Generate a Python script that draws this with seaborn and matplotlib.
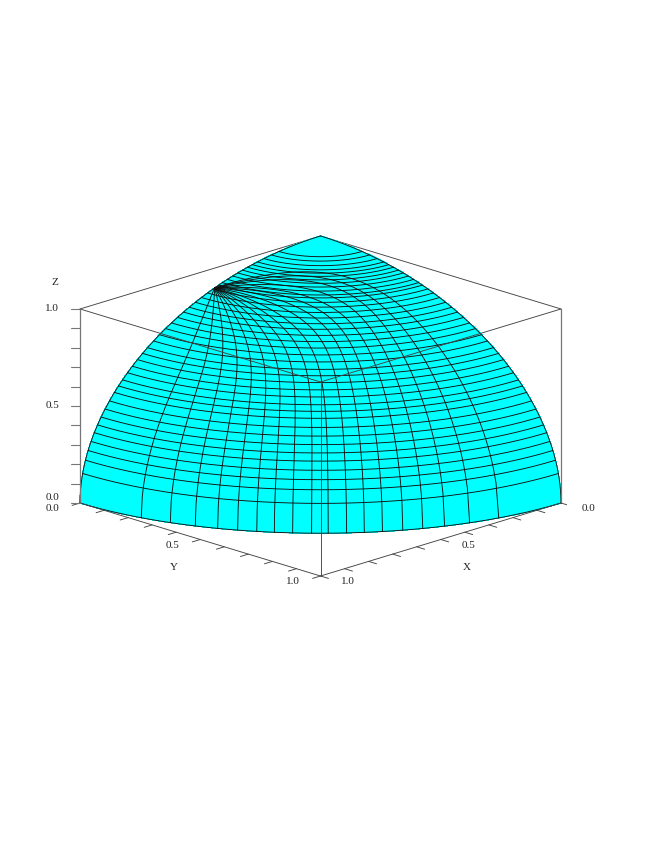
import numpy as np
import matplotlib
matplotlib.use("Agg")
import matplotlib.pyplot as plt
import seaborn as sns
from mpl_toolkits.mplot3d import proj3d

# ---- values ----
ring_z = [0.148, 0.212, 0.258, 0.30, 0.34, 0.375, 0.41, 0.445, 0.48, 0.516, 0.543, 0.568,
          0.597, 0.623, 0.649, 0.673, 0.695, 0.72, 0.743, 0.765, 0.785, 0.804, 0.822,
          0.838, 0.854, 0.869, 0.883, 0.895, 0.906, 0.913, 0.922, 0.931, 0.939, 0.946,
          0.953, 0.959, 0.965, 0.972, 0.979, 0.985]
curve_end_azimuth = [13.2, 18.8, 23.4, 27.4, 30.9, 34.2, 37.2, 40.3, 43.5, 46.3, 49.4,
                     52.4, 55.5, 59.0, 62.5, 66.4, 71.0, 76.6]
curve_elbow_radius = [0.73, 0.725, 0.72, 0.71, 0.70, 0.69, 0.67, 0.65, 0.63, 0.60, 0.56,
                      0.52, 0.48, 0.44, 0.38, 0.31, 0.27, 0.232]
fan_point = (0.44, 0.0)
tick_values = [0.0, 0.5, 1.0]
minor_ticks = [0.0, 0.1, 0.2, 0.3, 0.4, 0.5, 0.6, 0.7, 0.8, 0.9, 1.0]
axis_names = ["X", "Y", "Z"]

sns.set_theme(style="white", rc={"figure.facecolor": "white"})
plt.rcParams["font.family"] = ["Liberation Serif", "DejaVu Serif"]

W, H = 654, 846
fig = plt.figure(figsize=(W / 100, H / 100), dpi=100)
ax = fig.add_subplot(projection="3d", proj_type="ortho", computed_zorder=False)
ax.set_xlim(0, 1, view_margin=0)
ax.set_ylim(0, 1, view_margin=0)
ax.set_zlim(0, 1, view_margin=0)
ax.set_box_aspect((1, 1, 0.5987))
ax.view_init(elev=17.67, azim=45)
ax.set_axis_off()

# place the axes so that the corners land on the reference pixels
P = ax.get_proj()
xa, ya, _ = proj3d.proj_transform(1, 0, 0, P)
xb, yb, _ = proj3d.proj_transform(0, 1, 0, P)
xlo, xhi = ax.viewLim.intervalx
ylo, yhi = ax.viewLim.intervaly
side = 481.0 * (xhi - xlo) / (xb - xa)
left = 80.0 - (xa - xlo) * side / (xhi - xlo)
bottom = (H - 503.0) - (ya - ylo) * side / (yhi - ylo)
ax.set_position([left / W, bottom / H, side / W, side / H])

# surface
ph = np.radians(np.linspace(0, 90, 91))
th = np.radians(np.linspace(0, 90, 91))
PH, TH = np.meshgrid(ph, th)
ax.plot_surface(np.sin(TH) * np.cos(PH), np.sin(TH) * np.sin(PH), np.cos(TH),
                color="#00FFFF", shade=False, linewidth=0.3, edgecolor="#00FFFF",
                antialiased=False, zorder=2, rcount=91, ccount=91)

LW = 0.65
INK = "#111111"
BOX = "#444444"
AXC = "#777777"

# back edges, hidden by the surface
for a, b in [((1, 0, 1), (0, 0, 1)), ((0, 1, 1), (0, 0, 1))]:
    ax.plot(*zip(a, b), color=BOX, lw=LW, zorder=1)

# outline
s = np.radians(np.linspace(0, 90, 181))
ax.plot(np.cos(s), np.sin(s), 0 * s, color=INK, lw=LW, zorder=3)
ax.plot(np.cos(s), 0 * s, np.sin(s), color=INK, lw=LW, zorder=3)
ax.plot(0 * s, np.cos(s), np.sin(s), color=INK, lw=LW, zorder=3)

# rings of constant height
for z in ring_z:
    r = np.sqrt(1 - z ** 2)
    ax.plot(r * np.cos(s), r * np.sin(s), z + 0 * s, color=INK, lw=LW, zorder=3)

# curves from the base circle, round an elbow, to the fan point on the y=0 edge
t = np.linspace(0, 1, 200)[:, None]
w = 2.0
f = np.array(fan_point)
for az, a in zip(curve_end_azimuth, curve_elbow_radius):
    e = np.array([np.cos(np.radians(az)), np.sin(np.radians(az))])
    c = a * e
    num = (1 - t) ** 2 * e + 2 * w * t * (1 - t) * c + t ** 2 * f
    den = (1 - t) ** 2 + 2 * w * t * (1 - t) + t ** 2
    xy = num / den
    zz = np.sqrt(np.clip(1 - (xy ** 2).sum(axis=1), 0, 1))
    ax.plot(xy[:, 0], xy[:, 1], zz, color=INK, lw=LW, zorder=3)

# box edges in front of the surface
for a, b in [((1, 0, 1), (1, 1, 1)), ((0, 1, 1), (1, 1, 1)), ((1, 1, 0), (1, 1, 1))]:
    ax.plot(*zip(a, b), color=BOX, lw=LW, zorder=4)
for a, b in [((1, 0, 0), (1, 0, 1)), ((0, 1, 0), (0, 1, 1))]:
    ax.plot(*zip(a, b), color=AXC, lw=0.9, zorder=4)
for a, b in [((1, 0, 0), (1, 1, 0)), ((0, 1, 0), (1, 1, 0))]:
    ax.plot(*zip(a, b), color=BOX, lw=LW, zorder=4)

# ticks
L = 0.033
for v in minor_ticks:
    ax.plot([1, 1 + L], [v, v], [0, 0], color=BOX, lw=LW, zorder=4)
    ax.plot([v, v], [1, 1 + L], [0, 0], color=BOX, lw=LW, zorder=4)
    ax.plot([1, 1 + 0.0187], [0, -0.0187], [v, v], color=AXC, lw=0.8, zorder=4)


def label(x, y, z, txt):
    px, py, _ = proj3d.proj_transform(x, y, z, P)
    ax.text2D(px, py, txt, transform=ax.transData, ha="center", va="center",
              fontsize=8, color="#222222", zorder=6)


for v in tick_values:
    label(1.099, v - 0.017, 0, f"{v:.1f}")
    label(v - 0.017, 1.099, 0, f"{v:.1f}")
    label(1.058, -0.058, v if v > 0 else 0.026, f"{v:.1f}")
label(0.641, 1.249, 0, axis_names[0])
label(1.249, 0.641, 0, axis_names[1])
label(1.052, -0.052, 1.134, axis_names[2])

fig.savefig("out.png", dpi=100)
